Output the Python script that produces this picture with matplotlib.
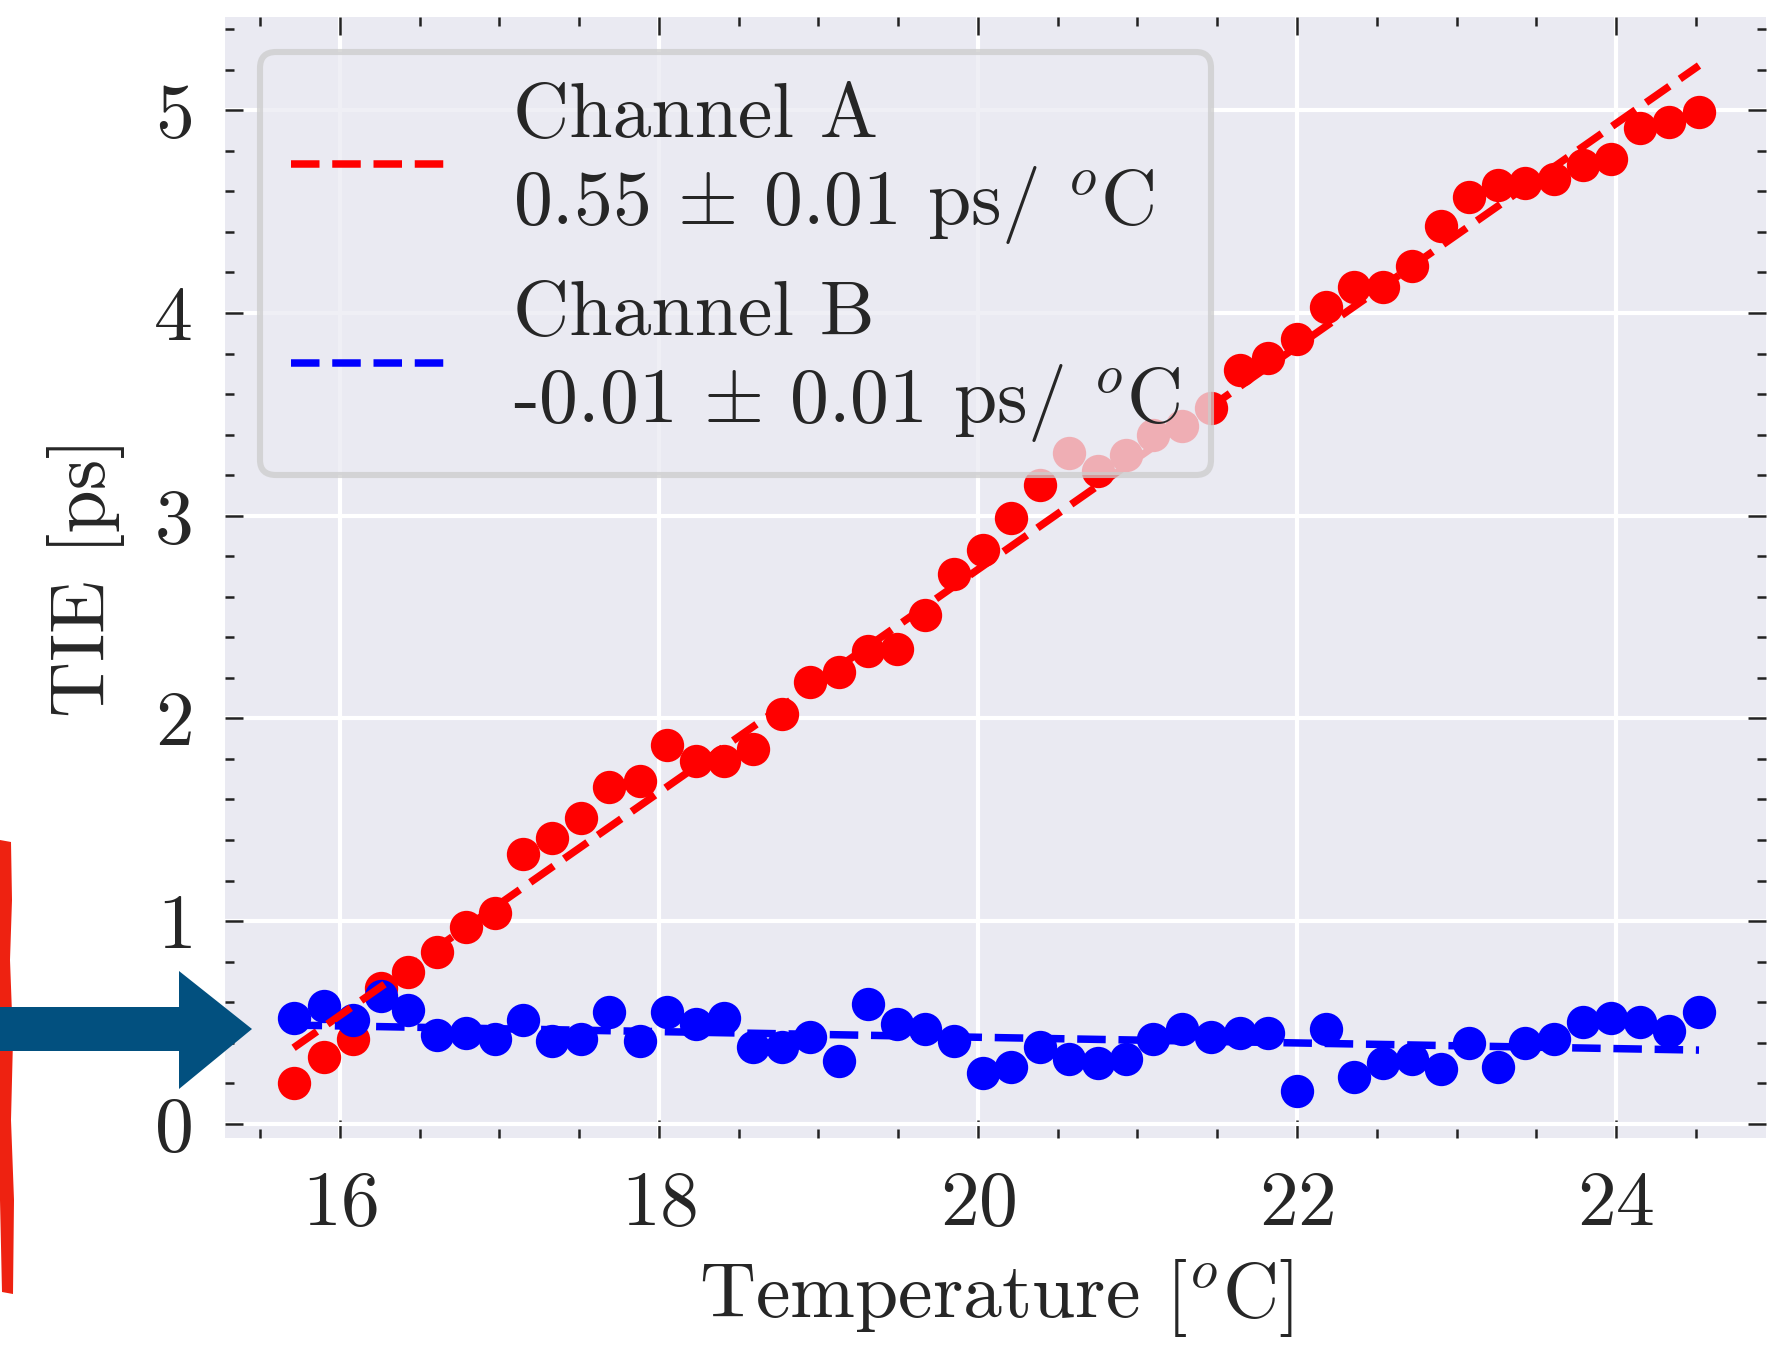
import numpy as np
import matplotlib
matplotlib.use("Agg")
import matplotlib.pyplot as plt
import seaborn as sns
from matplotlib.patches import Polygon
from matplotlib.ticker import MultipleLocator

# ---------------- data ----------------
temperature = [15.71, 15.90, 16.08, 16.26, 16.43, 16.61, 16.79, 16.97, 17.15, 17.33,
               17.51, 17.69, 17.88, 18.05, 18.23, 18.41, 18.59, 18.77, 18.95, 19.13,
               19.31, 19.49, 19.67, 19.85, 20.03, 20.21, 20.39, 20.57, 20.75, 20.93,
               21.10, 21.28, 21.46, 21.64, 21.82, 22.00, 22.18, 22.36, 22.54, 22.72,
               22.90, 23.08, 23.26, 23.43, 23.61, 23.79, 23.97, 24.15, 24.33, 24.52]
tie_a = [0.20, 0.33, 0.42, 0.67, 0.75, 0.85, 0.97, 1.04, 1.33, 1.41,
         1.51, 1.66, 1.69, 1.87, 1.79, 1.79, 1.85, 2.02, 2.18, 2.23,
         2.33, 2.34, 2.51, 2.71, 2.83, 2.99, 3.15, 3.31, 3.22, 3.30,
         3.40, 3.44, 3.53, 3.72, 3.78, 3.87, 4.03, 4.13, 4.13, 4.23,
         4.43, 4.57, 4.63, 4.64, 4.66, 4.73, 4.76, 4.91, 4.94, 4.99]
tie_b = [0.52, 0.58, 0.51, 0.63, 0.56, 0.44, 0.45, 0.42, 0.51, 0.41,
         0.42, 0.55, 0.41, 0.55, 0.49, 0.52, 0.38, 0.38, 0.43, 0.31,
         0.59, 0.49, 0.47, 0.41, 0.25, 0.28, 0.38, 0.32, 0.30, 0.32,
         0.42, 0.47, 0.43, 0.45, 0.45, 0.16, 0.47, 0.23, 0.30, 0.32,
         0.27, 0.40, 0.28, 0.40, 0.42, 0.50, 0.52, 0.50, 0.46, 0.55]

# fitted lines: slope [ps/°C] and value at the first temperature
fit_a = (0.55, 0.375)
fit_b = (-0.014, 0.487)

label_a = "Channel A\n0.55 $\\pm$ 0.01 ps/ $^o$C"
label_b = "Channel B\n-0.01 $\\pm$ 0.01 ps/ $^o$C"
xlabel = "Temperature [$^o$C]"
ylabel = "TIE [ps]"

# ---------------- style ----------------
sns.set_style("darkgrid")
FS = 28
plt.rcParams.update({
    "font.family": "serif",
    "font.serif": ["cmr10"],
    "mathtext.fontset": "cm",
    "axes.formatter.use_mathtext": True,
    "font.size": FS,
    "axes.unicode_minus": False,
    "grid.linewidth": 1.5,
})

W, H, DPI = 1792, 1346, 200
fig = plt.figure(figsize=(W / DPI, H / DPI), dpi=DPI)
ax = fig.add_axes([225 / W, 1 - 1138 / H, (1766 - 225) / W, (1138 - 17) / H])

t = np.array(temperature)
ax.plot(t, tie_a, "o", color="red", ms=11, zorder=3)
ax.plot(t, tie_b, "o", color="blue", ms=11, zorder=3)
ax.plot(t, fit_a[0] * (t - t[0]) + fit_a[1], "--", color="red", lw=2.7,
        dashes=(3.8, 1.7), zorder=4, label=label_a)
ax.plot(t, fit_b[0] * (t - t[0]) + fit_b[1], "--", color="blue", lw=2.7,
        dashes=(3.8, 1.7), zorder=4, label=label_b)

ax.set_xlim(15.28, 24.94)
ax.set_ylim(-0.07, 5.46)
ax.xaxis.set_major_locator(MultipleLocator(2))
ax.xaxis.set_minor_locator(MultipleLocator(0.5))
ax.yaxis.set_major_locator(MultipleLocator(1))
ax.yaxis.set_minor_locator(MultipleLocator(0.2))
ax.tick_params(which="both", direction="in", top=True, right=True,
               bottom=True, left=True, color="#222222", labelcolor="#262626")
ax.tick_params(which="major", length=6.5, width=0.9, labelsize=FS, pad=12)
ax.tick_params(which="minor", length=3.3, width=0.9)
ax.grid(which="minor", visible=False)
for s in ax.spines.values():
    s.set_visible(False)

ax.set_xlabel(xlabel, fontsize=FS, color="#262626", labelpad=6)
ax.set_ylabel(ylabel, fontsize=FS, color="#262626", labelpad=10)

leg = ax.legend(loc="upper left", fontsize=FS, handlelength=2.0,
                handletextpad=0.85, labelspacing=0.45, borderpad=0.4,
                borderaxespad=0.45, framealpha=0.75, fancybox=True,
                facecolor="#EAEAF2", edgecolor="#CCCCCC")
leg.get_frame().set_linewidth(2.2)
leg.set_zorder(5)

# ---------------- annotations outside the axes ----------------
def px(pts):
    return [(x / W, 1 - y / H) for x, y in pts]

bar = [(0, 840), (11, 842), (12, 900), (10, 960), (13, 1040), (11, 1120),
       (14, 1200), (13, 1294), (2, 1292), (0, 1200)]
fig.add_artist(Polygon(px(bar), closed=True, transform=fig.transFigure,
                       facecolor="#EE2211", edgecolor="none"))
arrow = [(0, 1007), (179, 1007), (179, 971), (252, 1029), (179, 1089),
         (179, 1051), (0, 1051)]
fig.add_artist(Polygon(px(arrow), closed=True, transform=fig.transFigure,
                       facecolor="#02507F", edgecolor="none"))

fig.savefig("out.png", dpi=DPI)
